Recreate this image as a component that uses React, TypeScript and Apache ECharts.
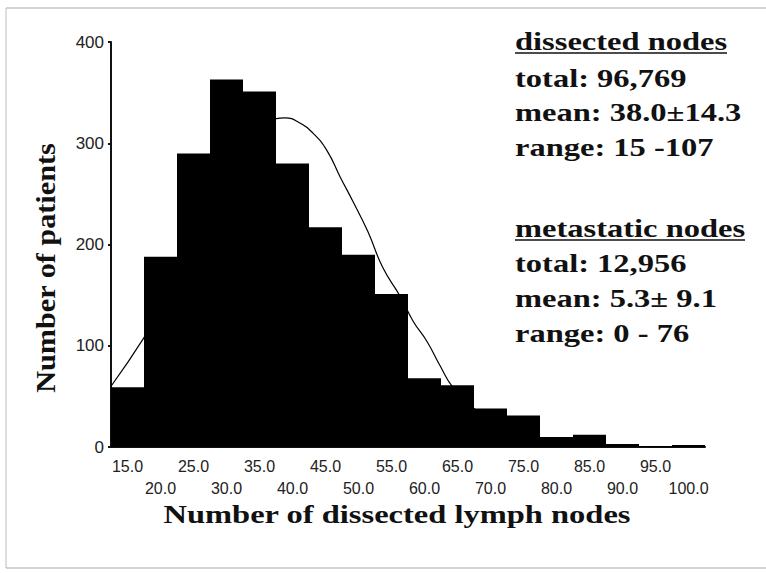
import React, { useEffect, useRef } from "react";
import * as echarts from "echarts";

const binLabels = ["15.0","20.0","25.0","30.0","35.0","40.0","45.0","50.0","55.0","60.0","65.0","70.0","75.0","80.0","85.0","90.0","95.0","100.0"];
const patients = [59, 188, 290, 363, 351, 280, 217, 190, 151, 68, 61, 38, 31, 10, 12, 3, 1, 2];
const curveX = [12.5, 17.5, 22.5, 27.5, 32.5, 35, 37.3, 38.9, 41.1, 43.1, 45.2, 47.2, 49.2, 51.4, 53.7, 56.3, 58.3, 60.4, 62.3, 64.3, 67.5, 72.5, 77.5, 82.5, 87.5, 92.5, 97.5, 102.5];
const curveY = [60, 108, 163, 238, 300, 317, 324, 325, 320, 310, 293, 267, 242, 213, 177, 149, 124, 104, 81, 59, 38, 20, 9, 4, 1.5, 0.5, 0.2, 0];
const yTicks = [0, 100, 200, 300, 400];
const dissectedLines = ["total: 96,769", "mean: 38.0±14.3", "range: 15 -107"];
const metastaticLines = ["total: 12,956", "mean: 5.3± 9.1", "range: 0 - 76"];

export default function App() {
  const ref = useRef<HTMLDivElement>(null);
  useEffect(() => {
    if (!ref.current) return;
    const chart = echarts.init(ref.current, undefined, { renderer: "svg" });
    const serif = "bold 25px 'Liberation Serif', 'Times New Roman', serif";
    const sx = 1.3;
    const annot: any[] = [];
    const mk = (text: string, y: number) => ({
      type: "text", x: 515, y, scaleX: sx,
      style: { text, font: serif, fill: "#111", align: "left", verticalAlign: "middle" },
    });
    annot.push(mk("dissected nodes", 41));
    dissectedLines.forEach((t, i) => annot.push(mk(t, 78 + i * 34.5)));
    annot.push(mk("metastatic nodes", 228));
    metastaticLines.forEach((t, i) => annot.push(mk(t, 263 + i * 35)));
    annot.push({ type: "line", shape: { x1: 515, y1: 53, x2: 727, y2: 53 }, style: { stroke: "#111", lineWidth: 1.5 } });
    annot.push({ type: "line", shape: { x1: 515, y1: 240, x2: 745, y2: 240 }, style: { stroke: "#111", lineWidth: 1.5 } });

    chart.setOption({
      animation: false,
      backgroundColor: "#fff",
      grid: { left: 111, right: 61, top: 42, bottom: 126 },
      xAxis: [
        {
          type: "category",
          data: binLabels,
          boundaryGap: true,
          axisLine: { lineStyle: { color: "#111", width: 2 } },
          axisTick: { alignWithLabel: true, length: 3, lineStyle: { color: "#111", width: 2 } },
          axisLabel: {
            interval: 0,
            margin: 8,
            fontFamily: "'Liberation Sans', Arial, sans-serif",
            fontSize: 16,
            color: "#222",
            lineHeight: 22,
            formatter: (v: string, i: number) => (i % 2 === 0 ? v : "\n" + v),
          },
        },
        { type: "value", min: 12.5, max: 102.5, show: false },
      ],
      yAxis: {
        type: "value",
        min: 0,
        max: 400,
        interval: 100,
        splitLine: { show: false },
        axisLine: { show: true, lineStyle: { color: "#111", width: 2 } },
        axisTick: { show: true, length: 3, lineStyle: { color: "#111", width: 2 } },
        axisLabel: {
          margin: 7,
          fontFamily: "'Liberation Sans', Arial, sans-serif",
          fontSize: 17,
          color: "#222",
          formatter: (v: number) => (yTicks.includes(v) ? String(v) : ""),
        },
      },
      series: [
        {
          type: "bar",
          data: patients,
          barCategoryGap: 0,
          barGap: 0,
          itemStyle: { color: "#000" },
          xAxisIndex: 0,
        },
        {
          type: "line",
          xAxisIndex: 1,
          data: curveX.map((x, i) => [x, curveY[i]]),
          smooth: true,
          symbol: "none",
          lineStyle: { color: "#000", width: 1.2 },
          z: 5,
        },
      ],
      graphic: [
        { type: "line", shape: { x1: 6, y1: 8, x2: 766, y2: 8 }, style: { stroke: "#aaa", lineWidth: 1 } },
        { type: "line", shape: { x1: 6, y1: 8, x2: 6, y2: 568 }, style: { stroke: "#bbb", lineWidth: 1 } },
        { type: "line", shape: { x1: 6, y1: 568, x2: 766, y2: 568 }, style: { stroke: "#aaa", lineWidth: 1 } },
        {
          type: "text", x: 45, y: 268, rotation: Math.PI / 2, scaleX: 1.08,
          style: { text: "Number of patients", font: "bold 28px 'Liberation Serif', 'Times New Roman', serif", fill: "#111", align: "center", verticalAlign: "middle" },
        },
        {
          type: "text", x: 397, y: 514, scaleX: 1.25,
          style: { text: "Number of dissected lymph nodes", font: "bold 26px 'Liberation Serif', 'Times New Roman', serif", fill: "#111", align: "center", verticalAlign: "middle" },
        },
        ...annot,
      ],
    });
    return () => chart.dispose();
  }, []);
  return <div ref={ref} style={{ position: "fixed", left: 0, top: 0, width: 766, height: 573 }} />;
}
